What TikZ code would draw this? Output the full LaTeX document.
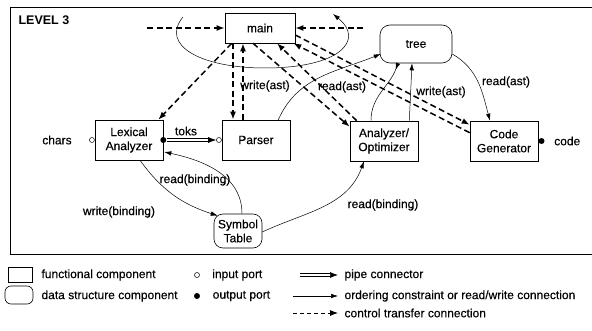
\documentclass[tikz,border=0pt]{standalone}
\usepackage{fontspec}
\setmainfont{Liberation Sans}
\newfontfamily\diagfont{Liberation Sans}[FakeBold=0.3]
\usetikzlibrary{positioning}
\usetikzlibrary{calc}
\usetikzlibrary{arrows.meta}

\begin{document}
\begin{tikzpicture}[x=1pt, y=-1pt,
	font=\diagfont\fontsize{12}{14}\selectfont,
	comp/.style={draw, line width=0.6pt, minimum width=68pt, minimum height=40pt, align=center, inner sep=2pt},
	data/.style={draw, line width=0.6pt, rounded corners=9pt, align=center, inner sep=2pt},
	ctrl/.style={line width=1.5pt, dash pattern=on 6pt off 3.5pt, -{Latex[length=8pt,width=6pt]}},
	rw/.style={line width=0.5pt, -{Latex[length=7pt,width=4.5pt]}},
	pipe/.style={double, double distance=1.8pt, line width=0.7pt, -{Latex[length=8pt,width=6pt]}},
	inport/.style={circle, draw, line width=0.5pt, minimum size=5pt, inner sep=0pt},
	outport/.style={circle, fill, minimum size=6pt, inner sep=0pt},
	lbl/.style={inner sep=1pt}]
	  \useasboundingbox (0,0) rectangle (592,331);

	  % Frame of the level
	  \draw[line width=0.7pt] (592,7) -- (10,7) -- (10,254) -- (592,254);
	  \node[font=\fontsize{12.5}{14}\selectfont\bfseries, anchor=west] (level) at (15,20) {LEVEL 3};

	  % Components
	  \node[comp, minimum width=70pt, minimum height=30pt] (main) at (260,28) {main};
	  \node[comp] (lex) at (129,140) {Lexical\\Analyzer};
	  \node[comp] (parser) at (256,140) {Parser};
	  \node[comp] (ana) at (384,141) {Analyzer/\\Optimizer};
	  \node[comp] (cg) at (504,141) {Code\\Generator};

	  % Data structures
	  \node[data, minimum width=72pt, minimum height=38pt, rounded corners=10pt] (tree) at (416,44) {tree};
	  \node[data, minimum width=48pt, minimum height=34pt] (sym) at (238,231) {Symbol\\Table};

	  % Ports
	  \node[inport, left=0pt of lex] (lexin) {};
	  \node[left=14pt of lexin] (chars) {chars};
	  \node[outport] (lexout) at (lex.east) {};
	  \node[inport, left=0pt of parser] (parserin) {};
	  \node[outport, right=0pt of cg] (cgout) {};
	  \node[right=6pt of cgout] (code) {code};

	  % Pipe
	  \draw[pipe] (lexout) -- (parserin);
	  \node[lbl] (toks) at (186,131) {toks};

	  % Control transfer connections
	  \coordinate (ctlin) at (147,28);
	  \coordinate (ctlret) at (363,28);
	  \draw[ctrl] (ctlin) -- (main.west);
	  \draw[ctrl] (ctlret) -- (main.east);
	  \draw[ctrl] ($(main.south west)+(7,0)$) -- ($(lex.north east)+(-5,0)$);
	  \draw[ctrl] ($(main.south)+(-27,0)$) -- ($(parser.north)+(-23,0)$);
	  \draw[ctrl] ($(parser.north)+(-13,0)$) -- ($(main.south)+(-17,0)$);
	  \draw[ctrl] ($(main.south)+(-7,0)$) -- ($(ana.north west)+(0,6)$);
	  \draw[ctrl] ($(ana.north west)+(7,0)$) -- ($(main.south)+(17,0)$);
	  \draw[ctrl] ($(main.east)+(0,7)$) -- ($(cg.north west)+(0,4)$);
	  \draw[ctrl] ($(cg.north west)+(0,12)$) -- ($(main.south east)+(-2,0)$);

	  % Ordering constraint around main
	  \coordinate (loopa) at (183,17);
	  \coordinate (loopb) at (333,14);
	  \draw[rw] (loopa) .. controls (160,45) and (200,68) .. (265,68) .. controls (340,68) and (365,40) .. (loopb);

	  % Read/write connections
	  \draw[rw] ($(parser.north east)+(-12,0)$) to[out=66,in=202] ($(tree.west)+(1,10)$);
	  \node[lbl] (wast1) at (265,86) {write(ast)};
	  \draw[rw] ($(ana.north east)+(-9,0)$) -- ($(tree.south)+(-4,0)$);
	  \node[lbl] (wast2) at (441,92) {write(ast)};
	  \draw[rw, {Latex[length=7pt,width=4.5pt,reversed]}-] ($(tree.south)+(-18,0)$) to[out=-110,in=90] ($(ana.north)+(-13,0)$);
	  \node[lbl] (rast1) at (342,87) {read(ast)};
	  \draw[rw] ($(tree.east)+(0,10)$) to[out=-30,in=105] ($(cg.north)+(-14,0)$);
	  \node[lbl] (rast2) at (506,82) {read(ast)};

	  \draw[rw] ($(lex.south)+(11,0)$) to[out=-54,in=162] ($(sym.north west)+(4,2)$);
	  \node[lbl] (wbind) at (119,212) {write(binding)};
	  \draw[rw] ($(sym.north)+(4,0)$) to[out=90,in=-12] ($(lex.east)+(1,12)$);
	  \node[lbl] (rbind1) at (195,180) {read(binding)};
	  \draw[rw] ($(sym.east)+(0,1)$) to[out=25,in=-110] ($(ana.south)+(-20,0)$);
	  \node[lbl] (rbind2) at (383,205) {read(binding)};

	  % Legend
	  \node[draw, line width=0.6pt, minimum width=24pt, minimum height=15pt] (lgcomp) at (20,275) {};
	  \node[anchor=west] (lgcomptxt) at (38,275) {functional component};
	  \node[data, minimum width=28pt, minimum height=18pt, rounded corners=6pt] (lgdata) at (19,295) {};
	  \node[anchor=west] (lgdatatxt) at (38,296) {data structure component};
	  \node[inport] (lgin) at (197,275) {};
	  \node[right=9pt of lgin] (lgintxt) {input port};
	  \node[outport] (lgout) at (197,296) {};
	  \node[right=9pt of lgout] (lgouttxt) {output port};
	  \coordinate (lgpa) at (300,275);
	  \coordinate (lgpb) at (338,275);
	  \draw[pipe] (lgpa) -- (lgpb);
	  \node[right=3pt of lgpb] (lgpipetxt) {pipe connector};
	  \coordinate (lgra) at (293,296);
	  \coordinate (lgrb) at (338,296);
	  \draw[rw] (lgra) -- (lgrb);
	  \node[right=3pt of lgrb] (lgrwtxt) {ordering constraint or read/write connection};
	  \coordinate (lgca) at (293,313);
	  \coordinate (lgcb) at (338,313);
	  \draw[ctrl, line width=0.8pt, dash pattern=on 4pt off 3pt] (lgca) -- (lgcb);
	  \node[right=3pt of lgcb] (lgctltxt) {control transfer connection};
\end{tikzpicture}
\end{document}
